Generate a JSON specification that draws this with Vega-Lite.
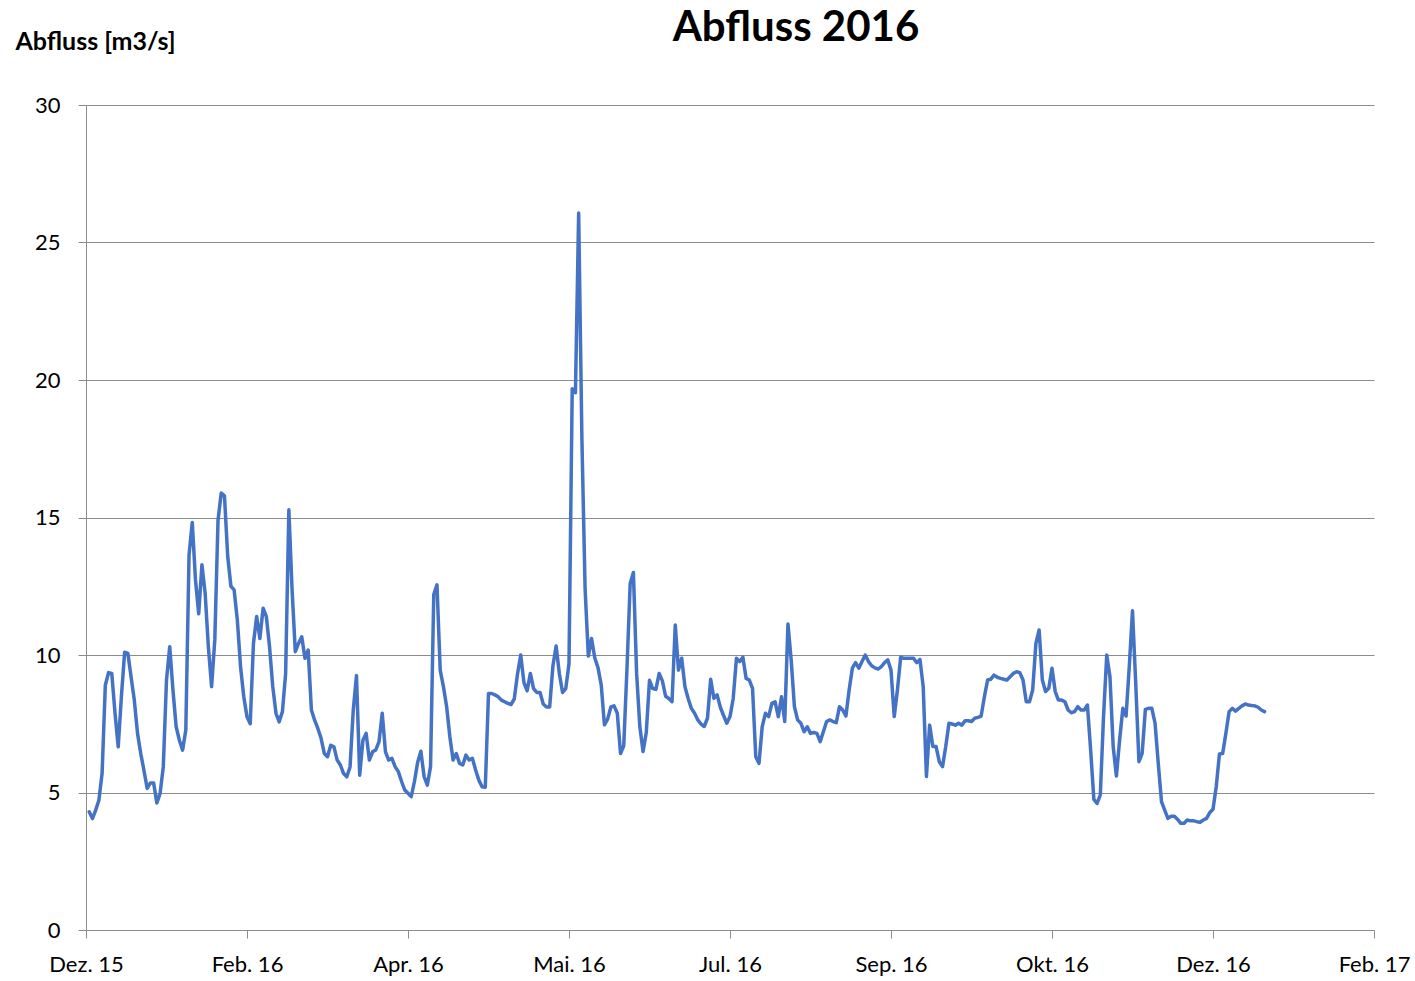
{
  "$schema": "https://vega.github.io/schema/vega-lite/v6.json",
  "autosize": "none",
  "width": 1288,
  "height": 825,
  "padding": {"left": 86, "top": 105, "right": 41, "bottom": 51},
  "background": "white",
  "title": {
    "text": "Abfluss 2016",
    "font": "Lato",
    "fontSize": 42,
    "fontWeight": "bold",
    "color": "#000000",
    "anchor": "middle",
    "frame": "group",
    "dx": 66,
    "dy": 31,
    "offset": 10
  },
  "data": {
    "values": [
      {"t":"2016-01-01","v":4.3},{"t":"2016-01-02","v":4.05},{"t":"2016-01-03","v":4.36},{"t":"2016-01-04","v":4.72},{"t":"2016-01-05","v":5.7},{"t":"2016-01-06","v":8.9},{"t":"2016-01-07","v":9.36},{"t":"2016-01-08","v":9.33},{"t":"2016-01-09","v":7.9},{"t":"2016-01-10","v":6.66},{"t":"2016-01-11","v":8.5},{"t":"2016-01-12","v":10.1},{"t":"2016-01-13","v":10.06},{"t":"2016-01-14","v":9.2},{"t":"2016-01-15","v":8.36},{"t":"2016-01-16","v":7.15},{"t":"2016-01-17","v":6.42},{"t":"2016-01-18","v":5.8},{"t":"2016-01-19","v":5.15},{"t":"2016-01-20","v":5.35},{"t":"2016-01-21","v":5.35},{"t":"2016-01-22","v":4.62},{"t":"2016-01-23","v":4.96},{"t":"2016-01-24","v":5.93},{"t":"2016-01-25","v":9.09},{"t":"2016-01-26","v":10.3},{"t":"2016-01-27","v":8.73},{"t":"2016-01-28","v":7.39},{"t":"2016-01-29","v":6.9},{"t":"2016-01-30","v":6.54},{"t":"2016-01-31","v":7.27},
      {"t":"2016-02-01","v":13.64},{"t":"2016-02-02","v":14.82},{"t":"2016-02-03","v":12.73},{"t":"2016-02-04","v":11.5},{"t":"2016-02-05","v":13.28},{"t":"2016-02-06","v":12.25},{"t":"2016-02-07","v":10.3},{"t":"2016-02-08","v":8.85},{"t":"2016-02-09","v":10.55},{"t":"2016-02-10","v":14.9},{"t":"2016-02-11","v":15.89},{"t":"2016-02-12","v":15.79},{"t":"2016-02-13","v":13.6},{"t":"2016-02-14","v":12.5},{"t":"2016-02-15","v":12.37},{"t":"2016-02-16","v":11.27},{"t":"2016-02-17","v":9.57},{"t":"2016-02-18","v":8.48},{"t":"2016-02-19","v":7.75},{"t":"2016-02-20","v":7.5},{"t":"2016-02-21","v":10.42},{"t":"2016-02-22","v":11.4},{"t":"2016-02-23","v":10.6},{"t":"2016-02-24","v":11.7},{"t":"2016-02-25","v":11.4},{"t":"2016-02-26","v":10.3},{"t":"2016-02-27","v":8.85},{"t":"2016-02-28","v":7.88},{"t":"2016-02-29","v":7.57},
      {"t":"2016-03-01","v":7.94},{"t":"2016-03-02","v":9.33},{"t":"2016-03-03","v":15.28},{"t":"2016-03-04","v":12.37},{"t":"2016-03-05","v":10.12},{"t":"2016-03-06","v":10.42},{"t":"2016-03-07","v":10.66},{"t":"2016-03-08","v":9.88},{"t":"2016-03-09","v":10.18},{"t":"2016-03-10","v":8.0},{"t":"2016-03-11","v":7.63},{"t":"2016-03-12","v":7.33},{"t":"2016-03-13","v":6.97},{"t":"2016-03-14","v":6.42},{"t":"2016-03-15","v":6.3},{"t":"2016-03-16","v":6.72},{"t":"2016-03-17","v":6.66},{"t":"2016-03-18","v":6.18},{"t":"2016-03-19","v":6.0},{"t":"2016-03-20","v":5.69},{"t":"2016-03-21","v":5.57},{"t":"2016-03-22","v":5.93},{"t":"2016-03-23","v":8.0},{"t":"2016-03-24","v":9.25},{"t":"2016-03-25","v":5.63},{"t":"2016-03-26","v":6.9},{"t":"2016-03-27","v":7.15},{"t":"2016-03-28","v":6.18},{"t":"2016-03-29","v":6.48},{"t":"2016-03-30","v":6.55},{"t":"2016-03-31","v":6.85},
      {"t":"2016-04-01","v":7.88},{"t":"2016-04-02","v":6.48},{"t":"2016-04-03","v":6.18},{"t":"2016-04-04","v":6.24},{"t":"2016-04-05","v":5.94},{"t":"2016-04-06","v":5.76},{"t":"2016-04-07","v":5.4},{"t":"2016-04-08","v":5.09},{"t":"2016-04-09","v":4.97},{"t":"2016-04-10","v":4.85},{"t":"2016-04-11","v":5.4},{"t":"2016-04-12","v":6.1},{"t":"2016-04-13","v":6.5},{"t":"2016-04-14","v":5.58},{"t":"2016-04-15","v":5.27},{"t":"2016-04-16","v":5.94},{"t":"2016-04-17","v":12.2},{"t":"2016-04-18","v":12.55},{"t":"2016-04-19","v":9.45},{"t":"2016-04-20","v":8.85},{"t":"2016-04-21","v":8.12},{"t":"2016-04-22","v":7.03},{"t":"2016-04-23","v":6.18},{"t":"2016-04-24","v":6.42},{"t":"2016-04-25","v":6.06},{"t":"2016-04-26","v":6.0},{"t":"2016-04-27","v":6.36},{"t":"2016-04-28","v":6.18},{"t":"2016-04-29","v":6.24},{"t":"2016-04-30","v":5.82},
      {"t":"2016-05-01","v":5.45},{"t":"2016-05-02","v":5.21},{"t":"2016-05-03","v":5.19},{"t":"2016-05-04","v":8.6},{"t":"2016-05-05","v":8.6},{"t":"2016-05-06","v":8.55},{"t":"2016-05-07","v":8.48},{"t":"2016-05-08","v":8.36},{"t":"2016-05-09","v":8.3},{"t":"2016-05-10","v":8.24},{"t":"2016-05-11","v":8.2},{"t":"2016-05-12","v":8.4},{"t":"2016-05-13","v":9.3},{"t":"2016-05-14","v":10.0},{"t":"2016-05-15","v":9.0},{"t":"2016-05-16","v":8.7},{"t":"2016-05-17","v":9.33},{"t":"2016-05-18","v":8.78},{"t":"2016-05-19","v":8.64},{"t":"2016-05-20","v":8.64},{"t":"2016-05-21","v":8.22},{"t":"2016-05-22","v":8.11},{"t":"2016-05-23","v":8.11},{"t":"2016-05-24","v":9.6},{"t":"2016-05-25","v":10.33},{"t":"2016-05-26","v":9.33},{"t":"2016-05-27","v":8.64},{"t":"2016-05-28","v":8.78},{"t":"2016-05-29","v":9.68},{"t":"2016-05-30","v":19.68},{"t":"2016-05-31","v":19.54},
      {"t":"2016-06-01","v":26.07},{"t":"2016-06-02","v":17.9},{"t":"2016-06-03","v":12.4},{"t":"2016-06-04","v":9.96},{"t":"2016-06-05","v":10.6},{"t":"2016-06-06","v":9.9},{"t":"2016-06-07","v":9.54},{"t":"2016-06-08","v":8.92},{"t":"2016-06-09","v":7.46},{"t":"2016-06-10","v":7.67},{"t":"2016-06-11","v":8.11},{"t":"2016-06-12","v":8.15},{"t":"2016-06-13","v":7.88},{"t":"2016-06-14","v":6.42},{"t":"2016-06-15","v":6.7},{"t":"2016-06-16","v":9.5},{"t":"2016-06-17","v":12.6},{"t":"2016-06-18","v":13.0},{"t":"2016-06-19","v":9.33},{"t":"2016-06-20","v":7.39},{"t":"2016-06-21","v":6.49},{"t":"2016-06-22","v":7.18},{"t":"2016-06-23","v":9.08},{"t":"2016-06-24","v":8.78},{"t":"2016-06-25","v":8.75},{"t":"2016-06-26","v":9.33},{"t":"2016-06-27","v":9.06},{"t":"2016-06-28","v":8.5},{"t":"2016-06-29","v":8.42},{"t":"2016-06-30","v":8.3},
      {"t":"2016-07-01","v":11.09},{"t":"2016-07-02","v":9.45},{"t":"2016-07-03","v":9.88},{"t":"2016-07-04","v":8.85},{"t":"2016-07-05","v":8.42},{"t":"2016-07-06","v":8.06},{"t":"2016-07-07","v":7.88},{"t":"2016-07-08","v":7.64},{"t":"2016-07-09","v":7.49},{"t":"2016-07-10","v":7.4},{"t":"2016-07-11","v":7.7},{"t":"2016-07-12","v":9.12},{"t":"2016-07-13","v":8.42},{"t":"2016-07-14","v":8.55},{"t":"2016-07-15","v":8.1},{"t":"2016-07-16","v":7.8},{"t":"2016-07-17","v":7.52},{"t":"2016-07-18","v":7.76},{"t":"2016-07-19","v":8.42},{"t":"2016-07-20","v":9.88},{"t":"2016-07-21","v":9.76},{"t":"2016-07-22","v":9.92},{"t":"2016-07-23","v":9.15},{"t":"2016-07-24","v":9.09},{"t":"2016-07-25","v":8.79},{"t":"2016-07-26","v":6.3},{"t":"2016-07-27","v":6.06},{"t":"2016-07-28","v":7.39},{"t":"2016-07-29","v":7.88},{"t":"2016-07-30","v":7.76},{"t":"2016-07-31","v":8.24},
      {"t":"2016-08-01","v":8.3},{"t":"2016-08-02","v":7.76},{"t":"2016-08-03","v":8.48},{"t":"2016-08-04","v":7.58},{"t":"2016-08-05","v":11.13},{"t":"2016-08-06","v":9.82},{"t":"2016-08-07","v":8.12},{"t":"2016-08-08","v":7.64},{"t":"2016-08-09","v":7.52},{"t":"2016-08-10","v":7.21},{"t":"2016-08-11","v":7.39},{"t":"2016-08-12","v":7.15},{"t":"2016-08-13","v":7.18},{"t":"2016-08-14","v":7.15},{"t":"2016-08-15","v":6.85},{"t":"2016-08-16","v":7.21},{"t":"2016-08-17","v":7.58},{"t":"2016-08-18","v":7.64},{"t":"2016-08-19","v":7.58},{"t":"2016-08-20","v":7.54},{"t":"2016-08-21","v":8.12},{"t":"2016-08-22","v":8.0},{"t":"2016-08-23","v":7.78},{"t":"2016-08-24","v":8.73},{"t":"2016-08-25","v":9.52},{"t":"2016-08-26","v":9.72},{"t":"2016-08-27","v":9.52},{"t":"2016-08-28","v":9.76},{"t":"2016-08-29","v":10.0},{"t":"2016-08-30","v":9.76},{"t":"2016-08-31","v":9.61},
      {"t":"2016-09-01","v":9.53},{"t":"2016-09-02","v":9.49},{"t":"2016-09-03","v":9.58},{"t":"2016-09-04","v":9.72},{"t":"2016-09-05","v":9.82},{"t":"2016-09-06","v":9.45},{"t":"2016-09-07","v":7.76},{"t":"2016-09-08","v":8.73},{"t":"2016-09-09","v":9.92},{"t":"2016-09-10","v":9.88},{"t":"2016-09-11","v":9.88},{"t":"2016-09-12","v":9.88},{"t":"2016-09-13","v":9.88},{"t":"2016-09-14","v":9.72},{"t":"2016-09-15","v":9.84},{"t":"2016-09-16","v":8.85},{"t":"2016-09-17","v":5.58},{"t":"2016-09-18","v":7.45},{"t":"2016-09-19","v":6.67},{"t":"2016-09-20","v":6.67},{"t":"2016-09-21","v":6.12},{"t":"2016-09-22","v":5.94},{"t":"2016-09-23","v":6.67},{"t":"2016-09-24","v":7.52},{"t":"2016-09-25","v":7.49},{"t":"2016-09-26","v":7.45},{"t":"2016-09-27","v":7.52},{"t":"2016-09-28","v":7.45},{"t":"2016-09-29","v":7.61},{"t":"2016-09-30","v":7.61},
      {"t":"2016-10-01","v":7.58},{"t":"2016-10-02","v":7.7},{"t":"2016-10-03","v":7.73},{"t":"2016-10-04","v":7.78},{"t":"2016-10-05","v":8.48},{"t":"2016-10-06","v":9.09},{"t":"2016-10-07","v":9.12},{"t":"2016-10-08","v":9.27},{"t":"2016-10-09","v":9.19},{"t":"2016-10-10","v":9.15},{"t":"2016-10-11","v":9.12},{"t":"2016-10-12","v":9.09},{"t":"2016-10-13","v":9.21},{"t":"2016-10-14","v":9.33},{"t":"2016-10-15","v":9.39},{"t":"2016-10-16","v":9.36},{"t":"2016-10-17","v":9.09},{"t":"2016-10-18","v":8.3},{"t":"2016-10-19","v":8.3},{"t":"2016-10-20","v":8.73},{"t":"2016-10-21","v":10.42},{"t":"2016-10-22","v":10.91},{"t":"2016-10-23","v":9.09},{"t":"2016-10-24","v":8.67},{"t":"2016-10-25","v":8.79},{"t":"2016-10-26","v":9.52},{"t":"2016-10-27","v":8.67},{"t":"2016-10-28","v":8.36},{"t":"2016-10-29","v":8.36},{"t":"2016-10-30","v":8.3},{"t":"2016-10-31","v":8.0},
      {"t":"2016-11-01","v":7.9},{"t":"2016-11-02","v":7.94},{"t":"2016-11-03","v":8.12},{"t":"2016-11-04","v":8.0},{"t":"2016-11-05","v":8.0},{"t":"2016-11-06","v":8.18},{"t":"2016-11-07","v":6.55},{"t":"2016-11-08","v":4.75},{"t":"2016-11-09","v":4.6},{"t":"2016-11-10","v":4.91},{"t":"2016-11-11","v":7.76},{"t":"2016-11-12","v":10.0},{"t":"2016-11-13","v":9.21},{"t":"2016-11-14","v":6.67},{"t":"2016-11-15","v":5.6},{"t":"2016-11-16","v":6.91},{"t":"2016-11-17","v":8.06},{"t":"2016-11-18","v":7.78},{"t":"2016-11-19","v":9.58},{"t":"2016-11-20","v":11.61},{"t":"2016-11-21","v":8.97},{"t":"2016-11-22","v":6.12},{"t":"2016-11-23","v":6.42},{"t":"2016-11-24","v":8.02},{"t":"2016-11-25","v":8.06},{"t":"2016-11-26","v":8.06},{"t":"2016-11-27","v":7.52},{"t":"2016-11-28","v":6.06},{"t":"2016-11-29","v":4.67},{"t":"2016-11-30","v":4.36},
      {"t":"2016-12-01","v":4.06},{"t":"2016-12-02","v":4.14},{"t":"2016-12-03","v":4.14},{"t":"2016-12-04","v":4.02},{"t":"2016-12-05","v":3.88},{"t":"2016-12-06","v":3.88},{"t":"2016-12-07","v":4.0},{"t":"2016-12-08","v":3.97},{"t":"2016-12-09","v":3.97},{"t":"2016-12-10","v":3.94},{"t":"2016-12-11","v":3.92},{"t":"2016-12-12","v":4.0},{"t":"2016-12-13","v":4.06},{"t":"2016-12-14","v":4.27},{"t":"2016-12-15","v":4.39},{"t":"2016-12-16","v":5.21},{"t":"2016-12-17","v":6.4},{"t":"2016-12-18","v":6.42},{"t":"2016-12-19","v":7.15},{"t":"2016-12-20","v":7.94},{"t":"2016-12-21","v":8.06},{"t":"2016-12-22","v":7.96},{"t":"2016-12-23","v":8.06},{"t":"2016-12-24","v":8.15},{"t":"2016-12-25","v":8.22},{"t":"2016-12-26","v":8.18},{"t":"2016-12-27","v":8.16},{"t":"2016-12-28","v":8.15},{"t":"2016-12-29","v":8.1},{"t":"2016-12-30","v":8.0},{"t":"2016-12-31","v":7.94}
    ]
  },
  "mark": {"type": "line", "color": "#4472C4", "strokeWidth": 3.5, "strokeJoin": "round", "strokeCap": "round", "clip": true},
  "encoding": {
    "x": {
      "field": "t",
      "type": "temporal",
      "scale": {
        "type": "utc",
        "domain": [
          {"year": 2015, "month": 12, "date": 31, "utc": true},
          {"year": 2017, "month": 2, "date": 3, "utc": true}
        ]
      },
      "axis": {
        "title": null,
        "values": [
          {"year": 2015, "month": 12, "date": 31, "utc": true},
          {"year": 2016, "month": 2, "date": 19, "utc": true},
          {"year": 2016, "month": 4, "date": 9, "utc": true},
          {"year": 2016, "month": 5, "date": 29, "utc": true},
          {"year": 2016, "month": 7, "date": 18, "utc": true},
          {"year": 2016, "month": 9, "date": 6, "utc": true},
          {"year": 2016, "month": 10, "date": 26, "utc": true},
          {"year": 2016, "month": 12, "date": 15, "utc": true},
          {"year": 2017, "month": 2, "date": 3, "utc": true}
        ],
        "labelExpr": "['Jan','Feb','Mrz','Apr','Mai','Jun','Jul','Aug','Sep','Okt','Nov','Dez'][utcmonth(datum.value)] + '. ' + utcFormat(datum.value, '%y')",
        "grid": false,
        "domainColor": "#8c8c8c",
        "domainWidth": 1,
        "tickColor": "#8c8c8c",
        "tickSize": 8,
        "tickWidth": 1,
        "labelFont": "Lato",
        "labelFontSize": 22,
        "labelColor": "#000000",
        "labelPadding": 16,
        "labelFlush": false,
        "labelOverlap": false
      }
    },
    "y": {
      "field": "v",
      "type": "quantitative",
      "scale": {"domain": [0, 30], "nice": false, "zero": true},
      "axis": {
        "title": "Abfluss [m3/s]",
        "titleAngle": 0,
        "titleAlign": "left",
        "titleBaseline": "alphabetic",
        "titleAnchor": "end",
        "titleX": -71,
        "titleY": -56,
        "titleFont": "Lato",
        "titleFontSize": 25,
        "titleFontWeight": "bold",
        "titleColor": "#000000",
        "values": [0, 5, 10, 15, 20, 25, 30],
        "grid": true,
        "gridColor": "#8c8c8c",
        "gridWidth": 1,
        "domainColor": "#8c8c8c",
        "domainWidth": 1,
        "tickColor": "#8c8c8c",
        "tickSize": 8,
        "tickWidth": 1,
        "labelFont": "Lato",
        "labelFontSize": 22,
        "labelColor": "#000000",
        "labelPadding": 18,
        "labelFlush": false,
        "labelOverlap": false
      }
    }
  },
  "config": {
    "view": {"stroke": null}
  }
}
